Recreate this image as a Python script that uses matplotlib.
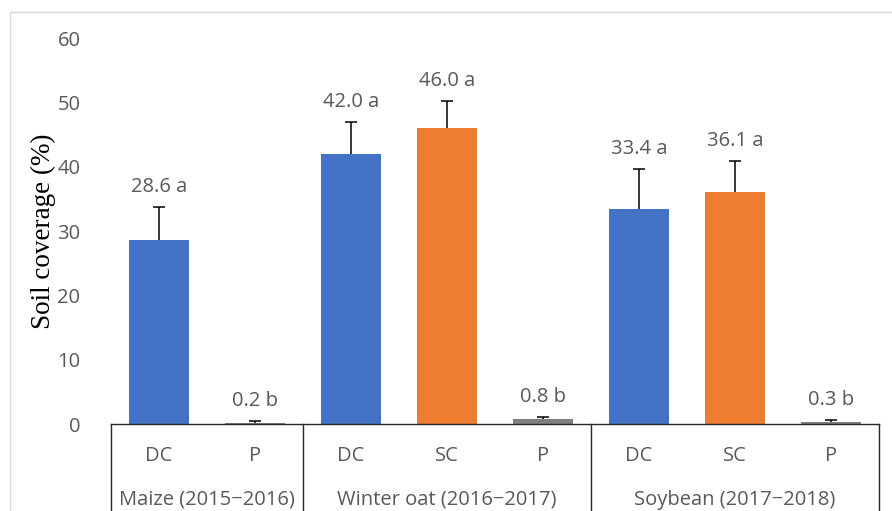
import matplotlib.pyplot as plt
from matplotlib.patches import Rectangle
import matplotlib.transforms as mtransforms

plt.rcParams['font.family'] = ['Open Sans', 'DejaVu Sans']

# soil coverage per treatment, grouped by crop season
groups = ["Maize (2015\u22122016)", "Winter oat (2016\u22122017)", "Soybean (2017\u22122018)"]
treatments = ["DC", "P", "DC", "SC", "P", "DC", "SC", "P"]
group_sizes = [2, 3, 3]
coverage = [28.6, 0.2, 42.0, 46.0, 0.8, 33.4, 36.1, 0.3]
errors = [5.1, 0.3, 5.0, 4.2, 0.3, 6.3, 4.8, 0.3]
letters = ["a", "b", "a", "a", "b", "a", "a", "b"]

colors = {"DC": "#4472C4", "SC": "#ED7D31", "P": "#7F7F7F"}
text_gray = "#595959"
fs = 14.5

W, H = 892, 511
fig = plt.figure(figsize=(W / 100, H / 100), dpi=100)
ax = fig.add_axes([111 / W, (H - 424) / H, (879 - 111) / W, (424 - 38) / H])

x = list(range(len(coverage)))
bar_colors = [colors[t] for t in treatments]
ax.bar(x, coverage, width=0.62, color=bar_colors, zorder=2)

# upper-only error bars with a cap on top
tops = [v + e for v, e in zip(coverage, errors)]
ax.vlines(x, coverage, tops, color="black", lw=1.1, zorder=3)
cap = 0.065
ax.hlines(tops, [xi - cap for xi in x], [xi + cap for xi in x], color="black", lw=1.1, zorder=3)

for xi, t, v, l in zip(x, tops, coverage, letters):
    ax.annotate(f"{v:.1f} {l}", (xi, t), xytext=(0, 7), textcoords="offset points",
                ha="center", va="bottom", fontsize=fs, color=text_gray)

ax.set_xlim(-0.5, len(coverage) - 0.5)
ax.set_ylim(0, 60)
ax.set_yticks(range(0, 61, 10))
ax.tick_params(axis="y", length=0, pad=22, labelsize=fs, labelcolor=text_gray)
ax.set_xticks([])
for side in ["top", "right", "left"]:
    ax.spines[side].set_visible(False)
ax.spines["bottom"].set_color("#262626")
ax.spines["bottom"].set_linewidth(1.0)

ax.set_ylabel("Soil coverage (%)", family="Liberation Serif", fontsize=19.5,
              color="black", labelpad=1)

# two-level category axis drawn below the plot
trans = mtransforms.blended_transform_factory(ax.transData, ax.transAxes)
bounds = [-0.5]
for n in group_sizes:
    bounds.append(bounds[-1] + n)
for b in bounds:
    ax.plot([b, b], [0, -0.3], transform=trans, color="#262626", lw=1.0, clip_on=False)

for xi, t in zip(x, treatments):
    ax.text(xi, -0.083, t, transform=trans, ha="center", va="center",
            fontsize=fs, color=text_gray)
for g, lo, hi in zip(groups, bounds[:-1], bounds[1:]):
    ax.text((lo + hi) / 2, -0.196, g, transform=trans, ha="center", va="center",
            fontsize=fs, color=text_gray)

# chart area border
fig.add_artist(Rectangle((10 / W, -0.1), 1.2, (H - 12) / H + 0.1, transform=fig.transFigure,
                         fill=False, edgecolor="#D9D9D9", lw=1.0))

fig.savefig("out.png", dpi=100)
